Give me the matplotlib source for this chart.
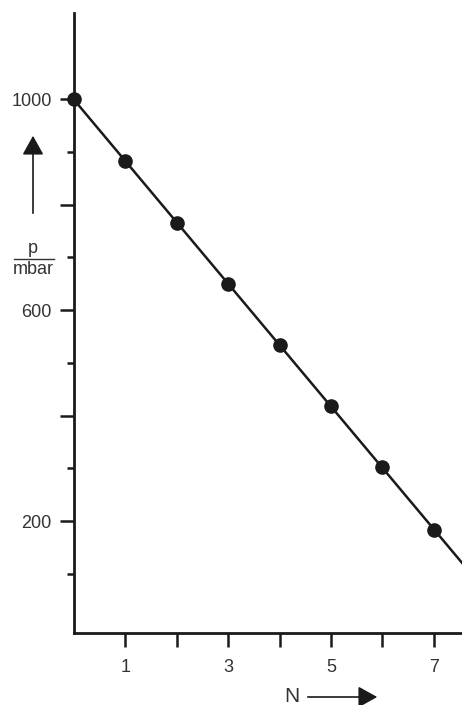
import numpy as np
import matplotlib
matplotlib.use("Agg")
import matplotlib.pyplot as plt

plt.rcParams['font.family'] = ['Liberation Sans', 'DejaVu Sans']

# Messwerte: Druck p nach N Schritten
N = [0, 1, 2, 3, 4, 5, 6, 7]
p = [1000, 882, 765, 649, 533, 418, 303, 184]

x_ticks = [1, 2, 3, 4, 5, 6, 7]
x_labels = ['1', '', '3', '', '5', '', '7']
y_major = [200, 400, 600, 800, 1000]
y_major_labels = ['200', '', '600', '', '1000']
y_minor = [100, 300, 500, 700, 900]

W, H = 462, 705
ink = '#1a1a1a'
txt = '#333333'

fig = plt.figure(figsize=(W / 100, H / 100), dpi=100)
ax = fig.add_axes([74 / W, 1 - 633 / H, (W - 74) / W, (633 - 13) / H])

# Ausgleichsgerade
k, d = np.polyfit(N, p, 1)
xs = np.array([0, 8])
ax.plot(xs, k * xs + d, color=ink, lw=1.8, zorder=2)
ax.plot(N, p, 'o', color=ink, ms=9.5, zorder=3, clip_on=False)

ax.set_xlim(0, 7.55)
ax.set_ylim(-12, 1163)

for s in ['top', 'right']:
    ax.spines[s].set_visible(False)
for s in ['left', 'bottom']:
    ax.spines[s].set_linewidth(2)
    ax.spines[s].set_color(ink)

ax.set_xticks(x_ticks)
ax.set_xticklabels(x_labels)
ax.set_yticks(y_major)
ax.set_yticklabels(y_major_labels)
ax.set_yticks(y_minor, minor=True)
ax.tick_params(axis='x', length=10, width=1.8, color=ink, pad=9, labelsize=13, labelcolor=txt)
ax.tick_params(axis='y', which='major', length=10, width=1.8, color=ink, pad=6, labelsize=13, labelcolor=txt)
ax.tick_params(axis='y', which='minor', length=5, width=1.8, color=ink)

# Achsenbeschriftung p / mbar mit Pfeil
fig.text(33 / W, 1 - 257 / H, 'p', ha='center', va='bottom', fontsize=13, color=txt)
fig.text(33 / W, 1 - 261 / H, 'mbar', ha='center', va='top', fontsize=13, color=txt)
fig.add_artist(plt.Line2D([14 / W, 54 / W], [1 - 259 / H, 1 - 259 / H], color=txt, lw=1))
fig.add_artist(matplotlib.patches.FancyArrowPatch(
    (33 / W, 1 - 216 / H), (33 / W, 1 - 133 / H), transform=fig.transFigure,
    arrowstyle='-|>,head_length=0.9,head_width=0.5', mutation_scale=13, color=ink, lw=1.2))

# N mit Pfeil
fig.text(292 / W, 1 - 697 / H, 'N', ha='center', va='center', fontsize=15, color=txt)
fig.add_artist(matplotlib.patches.FancyArrowPatch(
    (305 / W, 1 - 697 / H), (380 / W, 1 - 697 / H), transform=fig.transFigure,
    arrowstyle='-|>,head_length=0.9,head_width=0.5', mutation_scale=13, color=ink, lw=1.2))

fig.savefig('out.png', dpi=100)
